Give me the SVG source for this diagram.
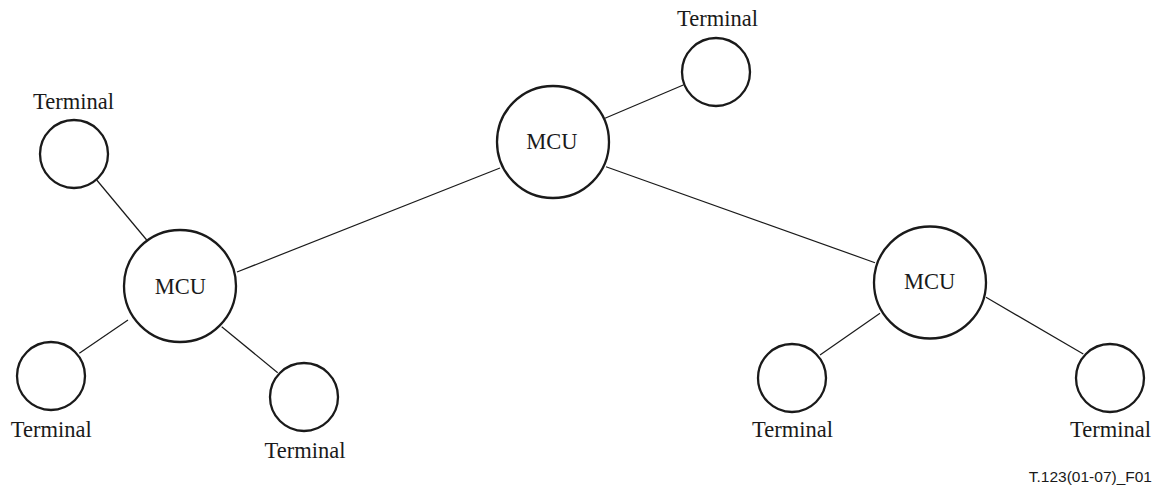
<svg xmlns="http://www.w3.org/2000/svg" width="1162" height="489" viewBox="0 0 1162 489">
<style>
.c{fill:#fff;stroke:#1a1a1a;stroke-width:2.3}
.l{stroke:#1a1a1a;stroke-width:1.2;fill:none}
.t{font-family:"Liberation Serif","Times New Roman",serif;font-size:22.5px;fill:#1a1a1a;text-anchor:middle}
.f{font-family:"Liberation Sans",Arial,sans-serif;font-size:15.5px;fill:#1a1a1a;text-anchor:end}
</style>
<rect width="1162" height="489" fill="#fff"/>
<g id="connectors">
<line class="l" x1="96.7" y1="180" x2="146.7" y2="240"/>
<line class="l" x1="79.3" y1="353.3" x2="128" y2="320"/>
<line class="l" x1="221.7" y1="326.7" x2="277.7" y2="372.7"/>
<line class="l" x1="237" y1="272" x2="500" y2="168"/>
<line class="l" x1="605" y1="118.3" x2="683.3" y2="85"/>
<line class="l" x1="606" y1="166.7" x2="875" y2="262.7"/>
<line class="l" x1="820" y1="355" x2="880" y2="313.3"/>
<line class="l" x1="986" y1="297.3" x2="1083.3" y2="354"/>
</g>
<g id="term-tl"><circle class="c" cx="74" cy="154" r="34"/><text class="t" x="73.5" y="109">Terminal</text></g>
<g id="mcu-left"><circle class="c" cx="180" cy="286" r="56"/><text class="t" x="180.5" y="294">MCU</text></g>
<g id="mcu-center"><circle class="c" cx="553" cy="142" r="56"/><text class="t" x="552" y="149">MCU</text></g>
<g id="term-top"><circle class="c" cx="716" cy="72" r="34"/><text class="t" x="717.5" y="26">Terminal</text></g>
<g id="mcu-right"><circle class="c" cx="930" cy="282.5" r="56"/><text class="t" x="929.7" y="289">MCU</text></g>
<g id="term-bl"><circle class="c" cx="51" cy="376" r="34"/><text class="t" x="51.3" y="437">Terminal</text></g>
<g id="term-bm"><circle class="c" cx="304" cy="397" r="34"/><text class="t" x="305" y="458">Terminal</text></g>
<g id="term-rbl"><circle class="c" cx="792" cy="378" r="34"/><text class="t" x="792.5" y="437">Terminal</text></g>
<g id="term-rbr"><circle class="c" cx="1110" cy="378" r="34"/><text class="t" x="1110.5" y="437">Terminal</text></g>
<text class="f" x="1152" y="482">T.123(01-07)_F01</text>
</svg>
